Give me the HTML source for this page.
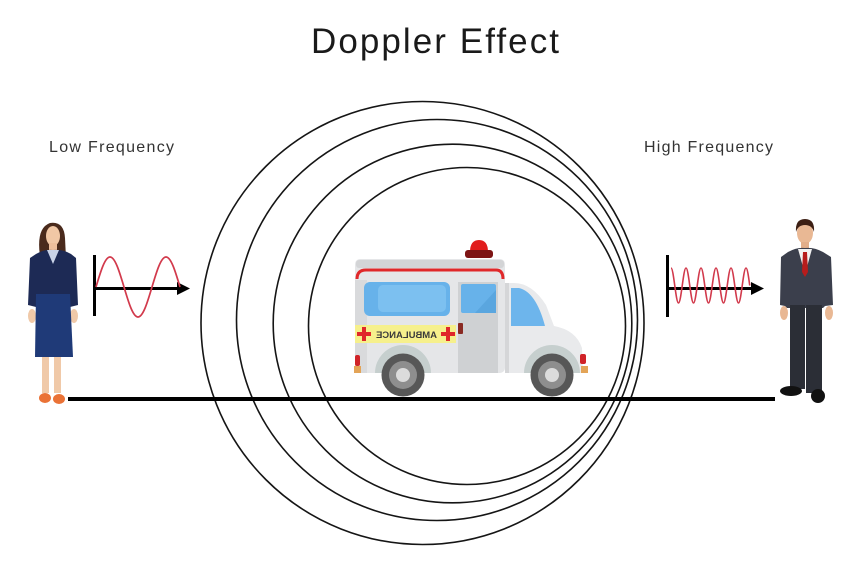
<!DOCTYPE html>
<html><head><meta charset="utf-8"><style>
html,body{margin:0;padding:0;background:#fff;}
svg{display:block;}
</style></head><body>
<svg width="861" height="571" viewBox="0 0 861 571" xmlns="http://www.w3.org/2000/svg">
<rect width="861" height="571" fill="#fff"/>
<!-- Title & labels -->
<text x="311" y="53" font-family="Liberation Sans, sans-serif" font-size="35" fill="#1a1a1a" textLength="248" lengthAdjust="spacing">Doppler Effect</text>
<text x="49" y="152" font-family="Liberation Sans, sans-serif" font-size="16" fill="#333" textLength="125" lengthAdjust="spacing">Low Frequency</text>
<text x="644" y="152" font-family="Liberation Sans, sans-serif" font-size="16" fill="#333" textLength="129" lengthAdjust="spacing">High Frequency</text>

<!-- Wave circles -->
<g fill="none" stroke="#151515" stroke-width="1.6">
<circle cx="422.5" cy="323" r="221.5"/>
<circle cx="437" cy="320" r="200.5"/>
<circle cx="452.5" cy="323.5" r="179.3"/>
<circle cx="467" cy="326" r="158.5"/>
</g>

<!-- Ground line -->
<line x1="68" y1="399" x2="775" y2="399" stroke="#000" stroke-width="4"/>

<!-- Left graph -->
<line x1="94.5" y1="255" x2="94.5" y2="316" stroke="#000" stroke-width="3"/>
<line x1="94" y1="288.5" x2="180" y2="288.5" stroke="#000" stroke-width="3"/>
<polygon points="177,282 190,288.5 177,295" fill="#000"/>
<path d="M96,287 c4.56,-15.36 8.93,-30 14,-30 s9.44,14.64 14,30 s8.93,30 14,30 s9.44,-14.64 14,-30 s8.93,-30 14,-30 s9.44,14.64 14,30" fill="none" stroke="#d23a4c" stroke-width="1.7"/>

<!-- Right graph -->
<line x1="667.5" y1="255" x2="667.5" y2="317" stroke="#000" stroke-width="3"/>
<line x1="667" y1="288.5" x2="753" y2="288.5" stroke="#000" stroke-width="3"/>
<polygon points="751,282 764,288.5 751,295" fill="#000"/>
<path d="M671,268 c1.36,0 2.53,8.54 3.75,17.5
s2.39,17.5 3.75,17.5 s2.53,-8.54 3.75,-17.5 s2.39,-17.5 3.75,-17.5 s2.53,8.54 3.75,17.5
s2.39,17.5 3.75,17.5 s2.53,-8.54 3.75,-17.5 s2.39,-17.5 3.75,-17.5 s2.53,8.54 3.75,17.5
s2.39,17.5 3.75,17.5 s2.53,-8.54 3.75,-17.5 s2.39,-17.5 3.75,-17.5 s2.53,8.54 3.75,17.5
s2.39,17.5 3.75,17.5 s2.53,-8.54 3.75,-17.5 s2.39,-17.5 3.75,-17.5 s2.53,8.54 3.75,17.5
s2.39,17.5 3.75,17.5 s2.53,-8.54 3.75,-17.5 s2.39,-17.5 3.75,-17.5 s2.53,8.54 3.75,17.5" fill="none" stroke="#d23a4c" stroke-width="1.6"/>

<!-- Ambulance -->
<g>
  <!-- siren -->
  <path d="M470,252 Q470,240 479,240 Q488,240 488,252 Z" fill="#e11d1d"/>
  <rect x="465" y="250" width="28" height="8" rx="3" fill="#7d1414"/>
  <!-- rear box -->
  <rect x="355" y="259" width="150" height="114" rx="5" fill="#e5e6e8"/>
  <rect x="356" y="260" width="148" height="8" rx="3" fill="#d3d4d6"/>
  <path d="M357,279 Q357,270 366,270 L496,270 Q503,270 503,279" fill="none" stroke="#e0282a" stroke-width="3"/>
  <rect x="355" y="280" width="12" height="93" fill="#d9dadc"/>
  <!-- main window -->
  <rect x="364" y="282" width="86" height="34" rx="6" fill="#67b2ea"/>
  <rect x="378" y="285" width="68" height="27" rx="5" fill="#7cc0f0"/>
  <!-- door -->
  <rect x="458" y="282" width="40" height="91" fill="#cfd1d3"/>
  <rect x="461" y="284" width="35" height="29" rx="2" fill="#67b2ea"/>
  <path d="M475,313 L496,290 L496,313 Z" fill="#5aa6df"/>
  <rect x="458" y="323" width="5" height="11" rx="1" fill="#8a2a22"/>
  <!-- yellow band -->
  <rect x="355" y="325" width="101" height="18" fill="#f6f08c"/>
  <rect x="357" y="332" width="14" height="4" fill="#e0282a"/>
  <rect x="362" y="327" width="4" height="14" fill="#e0282a"/>
  <rect x="441" y="332" width="14" height="4" fill="#e0282a"/>
  <rect x="446" y="327" width="4" height="14" fill="#e0282a"/>
  <text transform="translate(437,338) scale(-1,1)" x="0" y="0" font-family="Liberation Sans, sans-serif" font-size="9" font-weight="bold" fill="#3a3a3a" textLength="61" lengthAdjust="spacingAndGlyphs">AMBULANCE</text>
  <!-- cab -->
  <path d="M505,283 L514,283 Q532,283 546,305 L554,326 Q576,330 582,348 L583,373 L505,373 Z" fill="#e9eaec"/>
  <path d="M511,288 L519,288 Q536,292 545,326 L511,326 Z" fill="#6db5ec"/>
  <rect x="505" y="283" width="4" height="90" fill="#d5d6d8"/>
  <!-- arches -->
  <path d="M375,373 A28,28 0 0 1 431,373 Z" fill="#c6cfce"/>
  <path d="M524,373 A28,28 0 0 1 580,373 Z" fill="#c6cfce"/>
  <!-- lights -->
  <rect x="355" y="355" width="5" height="11" rx="2" fill="#d02328"/>
  <rect x="354" y="366" width="7" height="7" fill="#e3a457"/>
  <rect x="580" y="354" width="6" height="10" rx="2" fill="#d02328"/>
  <rect x="581" y="366" width="7" height="7" fill="#e3a457"/>
  <!-- wheels -->
  <circle cx="403" cy="375" r="21.5" fill="#575757"/>
  <circle cx="403" cy="375" r="14" fill="#8e8e8e"/>
  <circle cx="403" cy="375" r="7" fill="#dcdcdc"/>
  <circle cx="552" cy="375" r="21.5" fill="#575757"/>
  <circle cx="552" cy="375" r="14" fill="#8e8e8e"/>
  <circle cx="552" cy="375" r="7" fill="#dcdcdc"/>
</g>

<!-- Woman -->
<g>
  <path d="M40,256 Q36,228 50,223 Q64,221 65,238 L66,258 Z" fill="#4a2a1c"/>
  <ellipse cx="53" cy="236" rx="7" ry="10" fill="#f1c7a5"/>
  <rect x="49" y="243" width="8" height="9" fill="#eebf9c"/>
  <path d="M36,254 Q44,249 53,250 Q63,249 71,254 L76,258 L78,305 L70,307 L70,300 L36,300 L36,307 L28,305 L30,258 Z" fill="#1d2a55"/>
  <path d="M47,250 L53,264 L59,250 Z" fill="#c9d3e8"/>
  <ellipse cx="32" cy="316" rx="4" ry="7" fill="#f0c9a8"/>
  <ellipse cx="74" cy="316" rx="4" ry="7" fill="#f0c9a8"/>
  <path d="M36,294 L70,294 L73,357 L35,357 Z" fill="#1f3a78"/>
  <rect x="42" y="357" width="7" height="36" fill="#f0c9a8"/>
  <rect x="54" y="357" width="7" height="36" fill="#f0c9a8"/>
  <ellipse cx="45" cy="398" rx="6" ry="5" fill="#ea7236"/>
  <ellipse cx="59" cy="399" rx="6" ry="5" fill="#ea7236"/>
</g>

<!-- Man -->
<g>
  <ellipse cx="805" cy="233" rx="8" ry="11" fill="#e9b894"/>
  <path d="M796,232 Q795,219 805,219 Q815,219 814,232 Q812,225 805,225 Q798,225 796,232 Z" fill="#3d1f14"/>
  <rect x="801" y="242" width="8" height="9" fill="#e2ae8a"/>
  <path d="M788,252 Q797,247 805,248 Q814,247 823,252 L831,257 L833,305 L825,306 L823,308 L787,308 L785,306 L780,305 L781,257 Z" fill="#3b3f4c"/>
  <path d="M798,249 L812,249 L805,274 Z" fill="#f2f2f2"/>
  <path d="M803,252 L807,252 L808,272 L805,277 L802,272 Z" fill="#b71c1c"/>
  <ellipse cx="784" cy="313" rx="4" ry="7" fill="#e9b894"/>
  <ellipse cx="829" cy="313" rx="4" ry="7" fill="#e9b894"/>
  <rect x="790" y="305" width="15" height="84" fill="#2b2e36"/>
  <rect x="806" y="305" width="16" height="88" fill="#2b2e36"/>
  <ellipse cx="791" cy="391" rx="11" ry="5" fill="#111"/>
  <ellipse cx="818" cy="396" rx="7" ry="7" fill="#111"/>
</g>
</svg>
</body></html>
